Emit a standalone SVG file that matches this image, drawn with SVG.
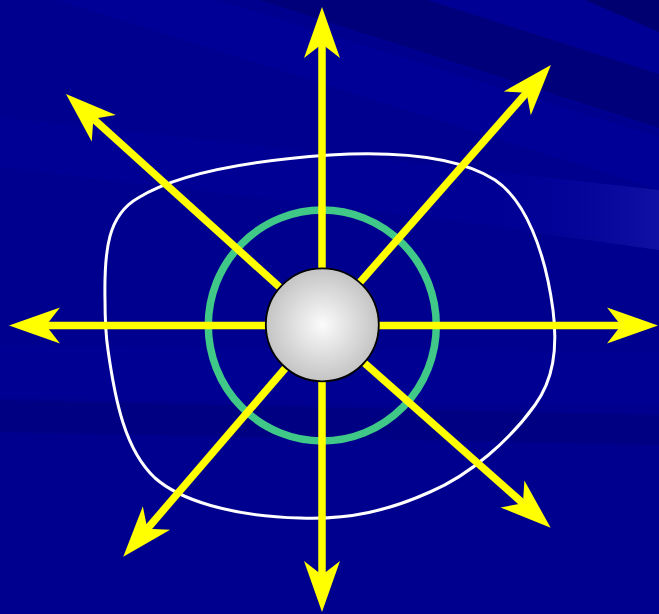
<svg xmlns="http://www.w3.org/2000/svg" width="659" height="614" viewBox="0 0 659 614">
  <defs>
    <radialGradient id="sphereGrad" cx="0.5" cy="0.5" r="0.5">
      <stop offset="0" stop-color="#fbfbfb"/>
      <stop offset="1" stop-color="#c4c4c4"/>
    </radialGradient>
    <linearGradient id="rightGlow" x1="0" y1="0" x2="1" y2="0">
      <stop offset="0" stop-color="#0000a0" stop-opacity="0"/>
      <stop offset="1" stop-color="#1818aa" stop-opacity="0.7"/>
    </linearGradient>
    <marker id="head" markerUnits="userSpaceOnUse" markerWidth="52" markerHeight="37" refX="19" refY="18" orient="auto" overflow="visible">
      <path d="M0,0 L51,18 L0,36 L14,18 Z" fill="#ffff00"/>
    </marker>
    <style>
      .ray { stroke: #ffff00; stroke-width: 7.5; fill: none; marker-end: url(#head); }
    </style>
  </defs>

  <!-- background -->
  <rect x="0" y="0" width="659" height="614" fill="#00008f"/>
  <polygon points="255,0 659,0 659,130" fill="#000094"/>
  <polygon points="240,-60 659,74 659,128 240,-6" fill="#00007a"/>
  <polygon points="585,0 659,0 659,32" fill="#000070"/>
  <polygon points="0,-68 659,137 659,190 0,-18" fill="#000096"/>
  <polygon points="0,117 659,190 659,245 0,167" fill="#000094"/>
  <polygon points="480,170 659,190 659,250 480,225" fill="url(#rightGlow)"/>
  <polygon points="0,400 659,415 659,445 0,432" fill="#000082"/>
  <polygon points="0,345 659,352 659,405 0,398" fill="#000092"/>

  <!-- boundary -->
  <g id="boundary">
    <path d="M105,300 C104,250 108,215 138,198 C170,178 230,162 330,155 C400,151 460,158 495,180 C525,200 545,250 553,310 C558,350 553,380 535,405 C510,440 470,475 430,492 C390,510 350,520 300,518 C230,516 180,500 155,478 C125,450 115,400 108,350 C105,330 105,315 105,300 Z" fill="none" stroke="#ffffff" stroke-width="3"/>
  </g>

  <!-- ring -->
  <g id="ring">
    <ellipse cx="322.3" cy="325.5" rx="114" ry="115.5" fill="none" stroke="#40c888" stroke-width="7.5"/>
  </g>

  <!-- connectors -->
  <g id="connectors">
    <line class="ray" x1="322" y1="325.5" x2="322" y2="39"/>
    <line class="ray" x1="322" y1="325.5" x2="322" y2="580"/>
    <line class="ray" x1="322" y1="325.5" x2="41" y2="325.5"/>
    <line class="ray" x1="322" y1="325.5" x2="626" y2="325.5"/>
    <line class="ray" x1="322" y1="325.5" x2="529.8" y2="89"/>
    <line class="ray" x1="322" y1="325.5" x2="89.7" y2="115.5"/>
    <line class="ray" x1="322" y1="325.5" x2="144.1" y2="532.5"/>
    <line class="ray" x1="322" y1="325.5" x2="526.7" y2="506.6"/>
  </g>

  <!-- sphere -->
  <g id="sphere">
    <circle cx="322.3" cy="324.8" r="56.5" fill="url(#sphereGrad)" stroke="#000000" stroke-width="1.8"/>
  </g>
</svg>
